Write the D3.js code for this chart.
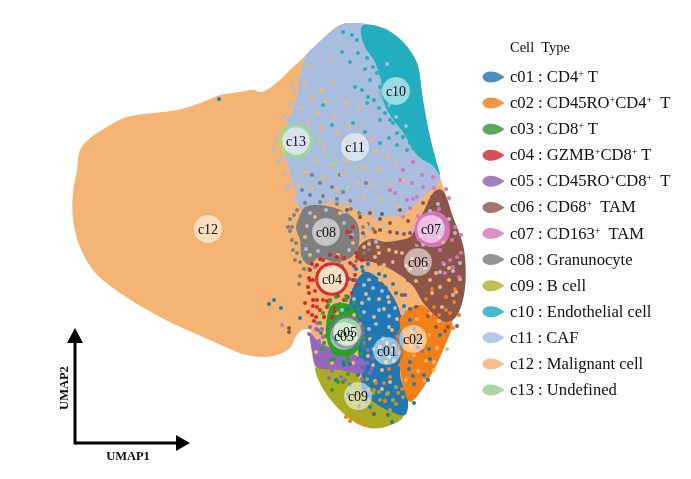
<!DOCTYPE html>
<html><head><meta charset="utf-8">
<script src="https://d3js.org/d3.v7.min.js"></script>
<style>
html,body{margin:0;padding:0;background:#fff}
svg{display:block;filter:blur(.4px)}
text{font-family:"Liberation Serif","Times New Roman",serif;fill:#111;white-space:pre}
</style></head><body><div id="chart"></div>
<script>
// ---- categories ----
const clusterIds = ["c01","c02","c03","c04","c05","c06","c07","c08","c09","c10","c11","c12","c13"];
const legendParts = [
 ["c01 : CD4","+"," T"],
 ["c02 : CD45RO","+","CD4","+","  T"],
 ["c03 : CD8","+"," T"],
 ["c04 : GZMB","+","CD8","+"," T"],
 ["c05 : CD45RO","+","CD8","+","  T"],
 ["c06 : CD68","+","  TAM"],
 ["c07 : CD163","+","  TAM"],
 ["c08 : Granunocyte"],
 ["c09 : B cell"],
 ["c10 : Endothelial cell"],
 ["c11 : CAF"],
 ["c12 : Malignant cell"],
 ["c13 : Undefined"]];
const legendTitle = "Cell  Type";
const pointColors = ["#1f77b4","#f57f17","#2ca02c","#d62728","#9467bd","#8c564b","#d873bd","#7f7f7f","#a9ab22","#22aebe","#a9bede","#f5b473","#98df8a"];
const legendColors = ["#4d8cbc","#f29445","#58a95e","#d65157","#a47fc0","#a6766d","#de8fc4","#939393","#c0c04f","#47bacb","#b6c8e5","#f9c08f","#a9d7a1"];
const ringOpacity = [.35,.5,.6,.95,.55,.35,.4,.3,.1,.3,.1,0,.85];

// ---- UMAP coordinates of label centres ----
const labelPos = [[38.7,12.8],[41.3,14],[34.4,14.3],[33.2,20],[34.7,14.7],[41.8,21.7],[43.1,25],[32.6,24.7],[35.8,8.3],[39.6,38.8],[35.5,33.2],[20.8,25],[29.6,33.8]];

// ---- region outlines ----
const outlineC12 = [[25.3,38.9],[24,38.7],[22,38.4],[20.3,37.7],[17.7,36.9],[12.7,36.2],[10.7,35.2],[8.8,33.9],[8,32.9],[7.7,30.9],[7.3,28.6],[7.3,25.9],[8,23.2],[9.3,20.9],[11.3,19.1],[16,16.2],[21,13.9],[24.7,12.4],[27.3,12.3],[29,13.1],[29.6,14.3],[30.2,14.9],[31,14.9],[31.1,13.4],[31.3,11.9],[32,9.6],[33.7,7.2],[36,5.4],[38,5.1],[40.3,6.2],[40.7,7.6],[42.3,9.2],[44,12.2],[45.3,15.9],[46.3,18.2],[46.4,22.9],[45.3,26.2],[44,30.2],[43,34.2],[42.5,36.7],[42.2,38.6],[41.7,41.6],[40.3,43.7],[38.3,45.1],[35.3,45.6],[34,45.4],[31.3,43.1],[30.3,42.1],[29,40.9],[28,39.9],[26.2,38.7]];
const outlineC11 = [[30.6,42.4],[31.3,43.1],[34,45.4],[35.3,45.6],[36.6,45.4],[37,43.6],[38,41.9],[38.6,39.9],[38.8,37.6],[40.6,34.9],[42,32.6],[43.3,31.6],[44,30],[42.5,28.4],[40.5,26.6],[38.5,26.1],[36.5,26.4],[35,27.2],[33,27.6],[30,27.1],[29.5,28.9],[28.9,30.9],[28.4,32.9],[28.7,35.4],[29.6,37.9],[30.1,40.4]];
const outlineC10 = [[36.2,45.3],[38.3,45.1],[40.3,43.7],[41.7,41.6],[42.2,38.6],[42.5,36.7],[43,34.2],[43.6,31.9],[44,30.4],[43.3,31.3],[41.7,32.4],[40.3,34.7],[39.2,36.1],[38.4,37.6],[38.2,39.4],[37.5,41.7],[36.4,43.4]];
const outlineC06 = [[35.8,23.1],[37,24],[38.5,23.7],[40,23.9],[41,24.2],[42,26],[43.5,28.8],[44.2,28.9],[45.3,26.2],[46.4,22.9],[46.4,18.4],[45.5,16.1],[44.5,15.7],[42.5,17.4],[41.2,19.4],[39.2,20.9],[37.2,21.7],[35.8,21.9]];
const outlineC07 = [[41.5,25.2],[42.2,26.4],[43.5,26.8],[44.6,26.2],[45,24.7],[44.4,23.5],[43,23.2],[41.8,23.8]];
const outlineC08 = [[30.5,27.2],[31.8,27.4],[33.5,27.1],[35,26.4],[35.8,25.4],[35.8,23.1],[35,22.1],[33.5,21.7],[31.8,22.1],[31,21.4],[30.2,22.1],[30,23.9],[29.6,25.1],[30,26.4]];
const outlineC09 = [[31.6,11.2],[34,10.9],[36.3,10.6],[37.5,8.4],[39,7.4],[40.3,6.2],[38,5.1],[36,5.4],[33.7,7.2],[32,9.6]];
const outlineC01 = [[35.2,18.9],[36.5,20.7],[37.8,20.1],[39.5,17.9],[40.2,15.9],[40.5,13.4],[40,10.4],[40.8,7.9],[40.5,6.4],[39.2,6.7],[37.8,7.4],[36.2,8.9],[36.2,10.9],[35.8,12.9],[36.2,14.9],[35,16.9]];
const outlineC02 = [[40,16.1],[42,17.4],[44.3,15.7],[45.2,15.7],[44.1,12.4],[42.5,9.4],[41,7.7],[40.3,9.4],[40,11.9],[40.4,13.9]];
const outlineC05 = [[31,14.6],[32,13.6],[33.5,13],[35.5,12.4],[36.5,11.7],[36.3,10.6],[34,10.9],[31.7,11.2],[31.2,12.9]];
const outlineC03 = [[33.2,17.4],[35,17.4],[35.8,15.9],[36,13.4],[35.2,12.4],[33.5,12.4],[32.7,13.9],[32.7,16.1]];

// ---- cells ----
const cellsC11 = [[36.4,19.4],[37.3,19.1],[38.2,18.8],[36.9,18],[37.9,16.9],[38.9,16.3],[36.4,16.7],[37.6,15.5],[38.9,15.2],[36.9,15],[38.3,14.1],[39.4,13.3],[37.9,12.4],[38.9,12.2],[39.5,17.1],[40.3,16.6],[34.2,16.9],[35.4,18],[34.4,20.4],[41.2,25],[39.9,24.6],[37.8,25.9],[42.5,21.1],[44,20.7],[38.9,37.4],[39.6,36.2],[40.6,35.3],[39.5,38.9],[38.7,41.5],[35.3,21],[36.9,25.1],[38.4,25.2],[27.4,33],[28,34.7],[28.4,36.3],[28.9,37.5],[29.4,38.8],[29.8,40],[27.8,31.7],[27.6,34],[28.4,30.5],[28.9,29.4],[28.1,32.2],[29.2,39.3],[28.8,36],[28.6,28.9],[43.8,27.5],[43,26.8],[44.9,26],[45.5,24.6],[44.1,25.3],[46,21.6],[44.4,21.5],[45.3,20.8],[29.4,27.9],[29.7,29.8],[36.3,24.3],[34.4,26.7],[37.6,23.7],[31,26.6],[32.6,26.9],[34.4,25.6],[35.2,24.4],[30.7,25.3],[34.9,22.9],[31.8,22.8],[30.6,23],[42.6,24.8],[44,25.9],[42.3,23.4],[43.9,24.2]];
const cellsC12 = [[30.5,39.5],[31.2,38.2],[30.1,37.1],[31.8,36.6],[32.6,37.8],[30.8,35.6],[32.2,35.1],[33.4,36.2],[29.6,34.4],[31,34.1],[33.8,34.6],[35,35.2],[34.4,33.7],[36,34.4],[37.2,33.9],[32.4,33.2],[30.2,32.5],[31.6,31.8],[33.1,31.4],[34.7,31.9],[37.6,32.8],[38.8,32.2],[36.4,31.1],[37.9,30.9],[39.6,31.4],[30.6,30.7],[32.4,30.2],[34.2,30.4],[35.8,29.6],[37.2,29.4],[39,29.2],[40.4,29.9],[29.9,29.4],[31.2,29.1],[33.6,28.9],[36.4,28.2],[38.1,28],[33,27.9],[34.8,27.6],[39.8,27.2],[37.2,26.8],[35.4,26.4],[38.9,26.3],[40.3,25.9],[32.2,38.9],[33.3,39.6],[34.6,37.6],[35.9,37.1],[30.9,41.2],[33.1,41.8],[36.6,25.4],[38.1,24.9],[39.4,25],[36.9,23.5],[37.8,23.2],[38.9,22.9],[40.2,22.6],[39.3,21.7],[41.2,22],[42.3,21.5],[37.5,22.2],[43.6,20.6],[44.9,19.9],[45.6,18.7],[43.2,18.6],[44.2,17.2],[41.6,19.8],[44.9,21.1],[40.6,21.3],[38.4,21.4],[36.2,17.6],[37.4,16.2],[38.4,17],[39.2,14.9],[37,14],[38,13.2],[36.8,12.3],[39.4,11.8],[38.2,10.9],[37.3,11.4],[41.4,12.4],[42.6,11.8],[41.2,14.8],[42.9,14.4],[41.8,10.8],[40.6,9.9],[43.7,13.1],[36,15.5],[34.9,18.2],[33.6,18.7],[32,15.2],[31.6,12.7],[33.2,11.6],[35.3,11.6],[36,10.2],[33.7,16.6],[35.4,16.4],[32.2,17.5],[36.6,18.5],[37.9,18],[38.9,17.7],[39.7,16],[38.7,13.6],[37.3,13],[38.6,11.7],[39,9.7],[37.5,9.8],[38.2,9],[42,13.4],[43.4,11.7],[42.4,9.8],[41.7,16],[43.9,15.8],[37.9,22.6],[39.6,22.7],[41,21],[43,19.9],[44,19.2],[45.3,18.4],[46,20],[41.7,23.4],[39.3,24],[37.4,24.6],[38.5,25.5],[36.4,23.2],[35.4,20.4],[33,19.7],[31.5,26.2],[34,26.6],[35.3,23.6],[30.5,24.2],[33.8,22.4],[31,22.4],[42,24.3],[44.3,23.7],[44.7,13],[43.4,10.9],[43,16.5],[41.1,13.3],[36.9,19.9],[38,19.9],[38.8,18.2]];
const cellsC10 = [[34.3,44.7],[35.2,44.4],[35.7,43.9],[35.8,42.6],[34.2,42.7],[35,41.7],[36.7,42.1],[37.3,41.2],[36.2,38.9],[35.5,39.2],[36.8,38.2],[36.7,37.6],[33.2,35.4],[32.3,37.4],[35.3,35.6],[36.5,34.7],[38,33.6],[38,35.9],[39,35.9],[39.7,34.6],[41,33.6],[40.7,34.9],[37.7,40.6],[38,39.2],[38.5,36.6],[39.3,35.6],[40.3,34.2],[41.3,33.1],[42.2,32.7],[40.7,32.9],[36.5,41],[37,39.9],[37.4,37.9],[37.9,37.1],[39.7,33.4],[38.9,34.1]];
const cellsC13 = [[32.8,32.4],[33.5,31.6],[34.8,29.2],[35.6,31.1],[29.7,35.2],[31.9,33.9],[30.9,33],[28.7,33.2],[29.6,32.4]];
const cellsC08 = [[31.2,30.4],[34,30.4],[30.2,28.9],[32,29.6],[34.3,28.7],[36.6,29.6],[33.2,29.2],[31,28.4],[32.3,28.3],[33.7,28],[35,27.8],[29.4,26.4],[29.2,25.2],[29,24.8],[29.6,23.6],[29.7,22.6],[30,21.7],[30.9,21],[30,20.3],[35.2,21.5],[36.4,24.3],[36.8,25.5],[36,26.2],[36.9,22.9],[34.2,21.3],[32.6,21.4],[29.9,19.5],[35.9,26.6],[36.3,25.2],[35.1,27],[33.7,27.5],[32,27.7],[30.5,27.6],[29.7,26.9],[29,26],[28.8,25.2],[29.2,23.9],[29.3,22.9],[29.5,21.9],[30.4,21],[31.5,21.2],[33,21.3],[33.9,21.7],[35.6,21.8],[36.4,22.6],[36.9,23.8],[37.3,25]];
const cellsC06 = [[34.7,26.9],[35,24.7],[36,26.2],[36.3,24.6],[38,24.9],[39.7,24.6],[39,25.6],[37,26.6],[40,26.9],[43.2,28.2],[42.3,27.6],[41,24.6],[43.6,15.2],[44.5,14.8],[42.8,16.3],[41.6,17.2],[40.2,18.4],[38,26],[40.8,25.8],[37.5,24.7],[39,24.7],[40.4,24.5],[41.8,23.6],[36.9,22.6],[42.4,18.4],[43.7,18.3],[39.6,21.6],[37.9,21.5],[44.8,15.2],[45.7,15.3],[40.8,19.9],[38.2,26.5],[28.9,15.1],[28.9,14.7]];
const cellsC07 = [[41.3,31.7],[40.3,30.9],[42.2,30.4],[39.5,28.6],[41.2,29.6],[41.7,28.2],[40,29.9],[42.3,29.2],[43.3,30.2],[40.7,27.9],[39,28.9],[44.3,21.6],[45,21.9],[45.7,22.2],[44,22.9],[45.3,21.2],[41,27.1],[40.3,26.2],[41.3,28],[45.9,20.2],[44.5,20.6],[44.6,29],[44.9,28.1],[41.8,26.3],[43.4,29.1],[43.9,27],[45.5,25.2],[46.1,22.6],[45.2,23.9],[44.3,24.7],[46.1,24.4],[28.2,15.4]];
const cellsC02 = [[38.4,9.6],[37.4,8.9],[39,10.2],[40,11.4],[40.6,12.7],[39.7,14.2],[40.2,15.1],[41.2,16.4],[38.8,8.6],[39.6,7.5],[37.2,6.7],[35.8,5.9],[34.6,6.2],[41.4,8.6],[45,16.6],[45.4,17.7],[44.6,18.2],[43.2,19],[41.8,16.9],[40.4,15.6],[40,12.6],[39.2,12.9],[38.9,11],[38.5,7.8],[37.6,9.6],[40.2,9],[39.8,8.6],[45.3,15.1],[45.9,16.4],[45.5,19],[44.6,16.9],[43.4,17.2],[42.6,18],[43.9,16.4],[36.5,5.5],[35,5.8]];
const cellsC01 = [[41,15.9],[41.7,14],[42.2,12.8],[41,11.7],[42.4,10.4],[41.4,9.5],[43,12],[44,14.4],[35.6,13.6],[35.9,12],[35,11.5],[36.2,11.1],[34.3,11.7],[33.6,9.9],[35,9.4],[36.5,9.5],[35.7,8.6],[36.6,7.9],[37.4,6.5],[38.8,6.4],[39.2,5.7],[40.1,6.9],[41.4,7.6],[38,7.7],[37,19.6],[37.9,20.5],[36.3,20.8],[35.5,19.9],[36.2,21.2],[38.6,19.1],[39.3,19.5],[40.5,18.4],[34.8,17],[21.9,38],[26.9,17.5],[27.4,17.9],[28.1,17.1],[30,16.1],[35,15.9],[34.9,20],[35.6,21],[36.8,21.5],[38.5,20.3],[39.6,18.6],[40.4,17.3],[41,17],[41.4,15],[41.8,13.2],[42.9,13],[40.9,11],[41.3,10.3],[42.8,9.9],[37.2,13.8],[35.4,14.8],[35.8,10.4],[34.8,8.5],[35.9,7.3],[37,7.2],[34.4,11.4]];
const cellsC04 = [[31.3,19.9],[32.3,21.9],[33.7,22.2],[35,21.6],[35.7,22.2],[35.3,19.9],[31.3,17.9],[31.7,17.2],[31.2,16.4],[32.3,17.9],[33,17.9],[33.5,17.1],[32.7,17.2],[32,16.9],[34.8,18.2],[31.5,18.8],[30.8,19.2],[31,20.9],[34.7,24.7],[35.1,24.2],[35.3,25.2],[33.8,18.3],[31.7,21.4],[30.9,20.1],[31.2,21.5],[32,22],[33,22.4],[34.4,22.1],[35.4,21.3],[35.5,20.4],[35.7,19.4],[35.2,18.6],[34.4,17.9],[31,19.9],[30.9,18.6],[31.3,17.3],[31.7,17.9],[32.7,17.8],[33.5,16.8],[32.4,16.2],[31.6,16.2],[30.8,16.7],[30.5,17.6],[33.2,16.2],[31.4,15.8],[35.6,22.6],[36.2,21.9]];
const cellsC03 = [[32.8,17.4],[33.6,18.2],[34.6,17.9],[35.8,17],[36.4,15.1],[36.4,13.2],[32.1,14.6],[32.2,13],[33.1,11.9],[34.7,11.7],[36.1,12.5],[33.8,9.7],[33.2,8.9],[34.3,9.7],[33,17.8],[34,17.5],[35.4,17.6],[36,16.3],[32.3,16.6],[32,15.6],[32.4,13.6],[33.4,12],[34.8,12],[36.4,14.1],[32.6,14.3],[34.6,18.3],[33.7,17],[34.8,10.5]];
const cellsC05 = [[31.3,13.2],[31.8,14.9],[31.7,15.6],[36,11.9],[37,10.6],[36.8,12.9],[36.3,14.6],[35.3,10.9],[37.3,12.1],[32.9,10.1],[34.5,9.9],[36.2,10],[32.3,14.2],[33.3,12.3],[30.9,14.5],[31.2,14],[31,15.2],[31.6,15],[32.2,15],[31.9,13.8],[32.6,13],[32.4,12],[31.8,11.8],[33.4,11.3],[34.6,11],[36,11],[36.7,11.6],[37.2,11],[36.4,13.6],[35.9,14.9],[33.2,10.8],[34.1,10.2]];
const cellsC09 = [[39.3,7.9],[38,7.9],[37.3,8.6],[36.7,10],[40.3,8.2],[39,6.9],[38.5,6],[37.9,8.7],[39.6,9.2],[36.9,9],[38.7,8.5]];

// ---- compass arrows in UMAP coordinates ----
const arrowOrigin = [7.5,3.6], arrowTipY = [7.5,15.1], arrowTipX = [19,3.6];
const axisNames = ["UMAP1","UMAP2"];

// ---- assembled tables ----
const outlines = [[11,outlineC12],[10,outlineC11],[9,outlineC10],[5,outlineC06],[6,outlineC07],[7,outlineC08],[8,outlineC09],[0,outlineC01],[1,outlineC02],[4,outlineC05],[2,outlineC03]];
const cells = [[7,cellsC08],[10,cellsC11],[11,cellsC12],[9,cellsC10],[12,cellsC13],[5,cellsC06],[6,cellsC07],[1,cellsC02],[0,cellsC01],[3,cellsC04],[2,cellsC03],[4,cellsC05],[8,cellsC09]];

const W = 691, H = 479;
const x = d3.scaleLinear().domain([0,69.1]).range([0,W]);
const y = d3.scaleLinear().domain([0,47.9]).range([H,0]);
const svg = d3.select("#chart").append("svg").attr("width",W).attr("height",H);

const area = d3.line().x(d=>x(d[0])).y(d=>y(d[1])).curve(d3.curveCatmullRomClosed.alpha(0.5));
svg.append("g").selectAll("path").data(outlines).join("path")
  .attr("d",d=>area(d[1])).attr("fill",d=>pointColors[d[0]]);

cells.forEach(([c,pts])=>{
  svg.append("g").attr("fill",pointColors[c]).selectAll("circle").data(pts).join("circle")
    .attr("cx",d=>x(d[0])).attr("cy",d=>y(d[1])).attr("r",2);
});

// cluster labels
const lab = svg.append("g");
clusterIds.forEach((id,i)=>{
  const cx=x(labelPos[i][0]), cy=y(labelPos[i][1]);
  lab.append("circle").attr("cx",cx).attr("cy",cy).attr("r",14).attr("fill","#fff").attr("fill-opacity",.55);
  lab.append("circle").attr("cx",cx).attr("cy",cy).attr("r",15.3).attr("fill","none")
    .attr("stroke",pointColors[i]).attr("stroke-width",3).attr("stroke-opacity",ringOpacity[i]);
});
clusterIds.forEach((id,i)=>{
  lab.append("text").attr("x",x(labelPos[i][0])).attr("y",y(labelPos[i][1])+4.5)
    .attr("text-anchor","middle").attr("font-size",14).text(id);
});

// legend
const rowY = d3.scaleLinear().domain([0,12]).range([77,390]);
svg.append("text").attr("x",510).attr("y",52).attr("font-size",14.5).text(legendTitle);
const rows = svg.append("g").selectAll("g").data(clusterIds).join("g")
  .attr("transform",(d,i)=>`translate(0,${rowY(i)})`);
rows.append("path").attr("d","M482.5,0C482.5,-3.5 487,-5.5 491,-5.5C496,-5.5 501,-2.5 504.5,0C501,2.5 496,5.5 491,5.5C487,5.5 482.5,3.5 482.5,0Z")
  .attr("fill",(d,i)=>legendColors[i]);
rows.each(function(d,i){
  const t=d3.select(this).append("text").attr("x",510).attr("y",5).attr("font-size",16.6);
  legendParts[i].forEach(p=>{
    if(p==="+") t.append("tspan").attr("font-size",10).attr("dy",-5).text("+");
    else {
      const s=t.append("tspan").text(p);
      if(t.selectAll("tspan").size()>1) s.attr("dy",5);
    }
  });
});

// compass
const ax = svg.append("g");
ax.append("line").attr("x1",x(arrowOrigin[0])).attr("y1",y(arrowOrigin[1])).attr("x2",x(arrowTipY[0])).attr("y2",y(arrowTipY[1])+10)
  .attr("stroke","#000").attr("stroke-width",3).attr("stroke-linecap","square");
ax.append("line").attr("x1",x(arrowOrigin[0])).attr("y1",y(arrowOrigin[1])).attr("x2",x(arrowTipX[0])-10).attr("y2",y(arrowTipX[1]))
  .attr("stroke","#000").attr("stroke-width",3);
const tipY=[x(arrowTipY[0]),y(arrowTipY[1])], tipX=[x(arrowTipX[0]),y(arrowTipX[1])];
ax.append("path").attr("d",`M${tipY[0]},${tipY[1]}l8,15h-16Z`).attr("fill","#000");
ax.append("path").attr("d",`M${tipX[0]},${tipX[1]}l-14,-8v16Z`).attr("fill","#000");
ax.append("text").attr("x",128).attr("y",460).attr("text-anchor","middle").attr("font-size",12.5).attr("font-weight","bold").text(axisNames[0]);
ax.append("text").attr("transform","translate(68,388) rotate(-90)").attr("text-anchor","middle").attr("font-size",12.5).attr("font-weight","bold").text(axisNames[1]);
</script></body></html>
